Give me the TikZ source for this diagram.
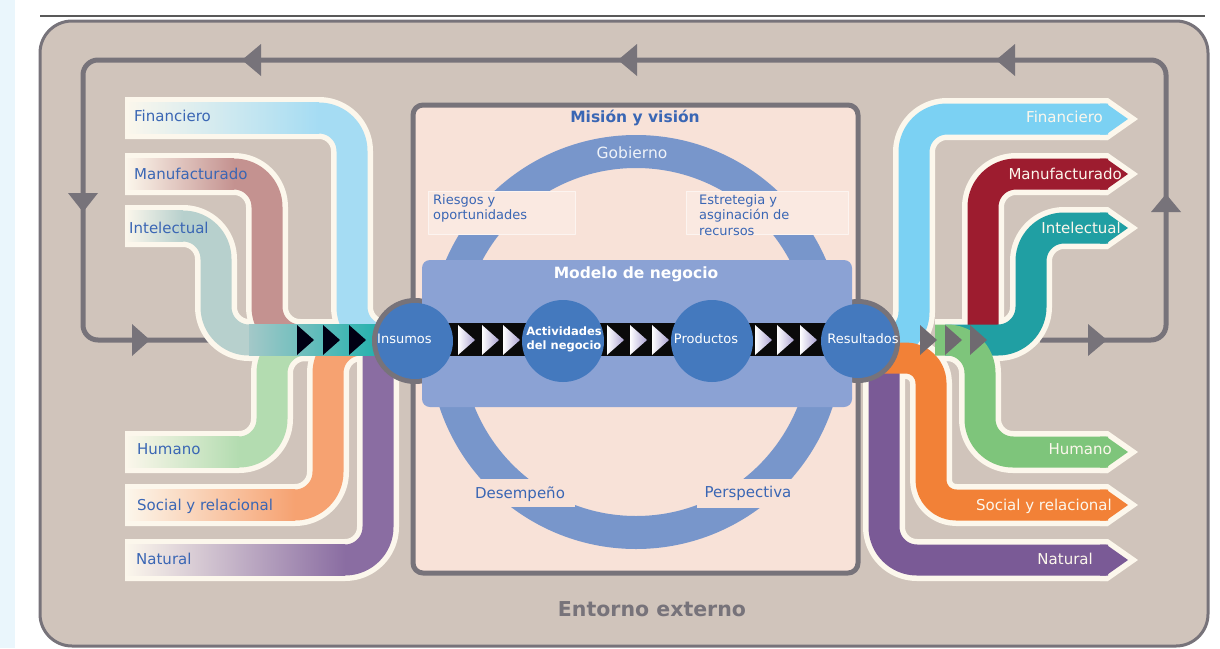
\documentclass[tikz,border=0pt]{standalone}
\usepackage{fontspec}
\setmainfont{DejaVu Sans}
\definecolor{strip}{HTML}{EAF6FC}
\definecolor{taupe}{HTML}{D0C4BB}
\definecolor{frame}{HTML}{77737A}
\definecolor{peach}{HTML}{F8E2D8}
\definecolor{peachbox}{HTML}{FAE9E1}
\definecolor{cream}{HTML}{FCF7EC}
\definecolor{ringc}{HTML}{7896CB}
\definecolor{modelc}{HTML}{8BA2D4}
\definecolor{circc}{HTML}{4479BE}
\definecolor{txtblue}{HTML}{3A66B4}
\definecolor{lav}{HTML}{ABA3D2}
\definecolor{LFin}{HTML}{A5DCF3}
\definecolor{LMan}{HTML}{C49290}
\definecolor{LInt}{HTML}{B7D0CD}
\definecolor{LHum}{HTML}{B3DCB0}
\definecolor{LSoc}{HTML}{F6A271}
\definecolor{LNat}{HTML}{8A6DA2}
\definecolor{BandA}{HTML}{A3C8C8}
\definecolor{BandB}{HTML}{13AEAA}
\definecolor{RFin}{HTML}{7BD1F3}
\definecolor{RMan}{HTML}{9D1C2F}
\definecolor{RInt}{HTML}{209FA3}
\definecolor{RHum}{HTML}{7EC57B}
\definecolor{RSoc}{HTML}{F28137}
\definecolor{RNat}{HTML}{7A5A96}
\definecolor{chevg}{HTML}{6F6A70}
\begin{document}
\begin{tikzpicture}[x=1pt,y=-1pt,line join=round,
  crm/.style={draw=cream,line width=42pt,rounded corners=33pt},
  rib/.style={draw=#1,line width=31pt,rounded corners=33pt},
  lbl/.style={font=\fontsize{15}{18}\selectfont,text=txtblue,inner sep=0pt,anchor=west},
  rlbl/.style={font=\fontsize{15}{18}\selectfont,text=cream,inner sep=0pt,anchor=east},
  small/.style={font=\fontsize{13}{15.5}\selectfont,text=txtblue,inner sep=0pt,align=left,anchor=north west},
  ringlbl/.style={font=\fontsize{15}{18}\selectfont,text=txtblue,inner sep=0pt},
  circtxt/.style={font=\fontsize{13}{15}\selectfont,text=white,inner sep=0pt},
  blob/.style={fill=circc},
  chevw/.style={left color=white,right color=lav},
]
\useasboundingbox (0,0) rectangle (1220,648);
\fill[white] (0,0) rectangle (1220,648);
\fill[strip] (0,0) rectangle (15,648);
\draw[line width=2pt,draw=black!65] (40,16) -- (1205,16);
% outer box
\draw[draw=frame,line width=3pt,fill=taupe,rounded corners=32pt] (40,21) rectangle (1208,646);
% feedback loop
\draw[frame,line width=5pt,rounded corners=15pt] (210,340) -- (83,340) -- (83,60) -- (1166,60) -- (1166,340) -- (1040,340);
\fill[frame] (242,60) -- (261,44) -- (261,76) -- cycle;
\fill[frame] (618,60) -- (637,44) -- (637,76) -- cycle;
\fill[frame] (996,60) -- (1015,44) -- (1015,76) -- cycle;
\fill[frame] (68,193) -- (98,193) -- (83,212) -- cycle;
\fill[frame] (132,324) -- (150,340) -- (132,356) -- cycle;
\fill[frame] (1151,212) -- (1181,212) -- (1166,194) -- cycle;
\fill[frame] (1088,324) -- (1107,340) -- (1088,356) -- cycle;
% ---------- left ribbons: cream ----------
\draw[crm] (125,118) -- (352,118) -- (352,340) -- (400,340);
\draw[crm] (125,174) -- (267,174) -- (267,340) -- (400,340);
\draw[crm] (125,226) -- (216,226) -- (216,340) -- (400,340);
\draw[crm] (125,452) -- (272,452) -- (272,340) -- (400,340);
\draw[crm] (125,505) -- (328,505) -- (328,340) -- (400,340);
\draw[crm] (125,560) -- (378,560) -- (378,335);
% ---------- left ribbons: colour ----------
\draw[rib=LFin] (125,118) -- (352,118) -- (352,340) -- (400,340);
\draw[rib=LMan] (125,174) -- (267,174) -- (267,340) -- (400,340);
\draw[rib=LInt] (125,226) -- (216,226) -- (216,340) -- (400,340);
\draw[rib=LHum] (125,452) -- (272,452) -- (272,340) -- (400,340);
\draw[rib=LSoc] (125,505) -- (328,505) -- (328,340) -- (400,340);
\draw[rib=LNat] (125,560) -- (378,560) -- (378,335);
\shade[left color=cream,right color=LFin] (125,102.5) rectangle (319,133.5);
\shade[left color=cream,right color=LMan] (125,158.5) rectangle (234,189.5);
\shade[left color=cream,right color=LInt] (125,210.5) rectangle (183,241.5);
\shade[left color=cream,right color=LHum] (125,436.5) rectangle (239,467.5);
\shade[left color=cream,right color=LSoc] (125,489.5) rectangle (295,520.5);
\shade[left color=cream,right color=LNat] (125,544.5) rectangle (345,575.5);
\shade[left color=BandA,right color=BandB] (249,324.5) rectangle (395,355.5);
% left labels
\node[lbl] (lfin) at (134,116) {Financiero};
\node[lbl] (lman) at (134,174) {Manufacturado};
\node[lbl] (lint) at (129,228) {Intelectual};
\node[lbl] (lhum) at (137,449) {Humano};
\node[lbl] (lsoc) at (137,506) {Social y relacional};
\node[lbl] (lnat) at (136,559) {Natural};
% ---------- right ribbons: cream ----------
\draw[crm] (884,350) -- (884,560) -- (1108,560);
\draw[crm] (870,345) -- (914,345) -- (914,119) -- (1108,119);
\draw[crm,rounded corners=25pt] (875,358) -- (931,358) -- (931,505) -- (1108,505);
\draw[crm] (983,335) -- (983,174) -- (1108,174);
\draw[crm] (945,340) -- (1031,340) -- (1031,228) -- (1108,228);
\draw[crm] (935,340) -- (980,340) -- (980,452) -- (1108,452);
\foreach \yy in {119,174,228,452,505,560}{
  \fill[cream] (1100,\yy-21) -- (1108,\yy-21) -- (1138,\yy) -- (1108,\yy+21) -- (1100,\yy+21) -- cycle;
}
% ---------- right ribbons: colour ----------
\draw[rib=RNat] (884,350) -- (884,560) -- (1108,560);
\draw[rib=RFin] (870,345) -- (914,345) -- (914,119) -- (1108,119);
\draw[rib=RSoc,rounded corners=25pt] (875,358) -- (931,358) -- (931,505) -- (1108,505);
\draw[rib=RMan] (983,335) -- (983,174) -- (1108,174);
\draw[rib=RInt] (945,340) -- (1031,340) -- (1031,228) -- (1108,228);
\draw[rib=RHum] (935,340) -- (980,340) -- (980,452) -- (1108,452);
\foreach \yy/\cc in {119/RFin,174/RMan,228/RInt,452/RHum,505/RSoc,560/RNat}{
  \fill[\cc] (1100,\yy-15.5) -- (1106,\yy-15.5) -- (1128,\yy) -- (1106,\yy+15.5) -- (1100,\yy+15.5) -- cycle;
}
\node[rlbl] (rfin) at (1103,117) {Financiero};
\node[rlbl] (rman) at (1122,174) {Manufacturado};
\node[rlbl] (rint) at (1121,228) {Intelectual};
\node[rlbl] (rhum) at (1112,449) {Humano};
\node[rlbl] (rsoc) at (1112,506) {Social y relacional};
\node[rlbl] (rnat) at (1093,559) {Natural};
% ---------- centre box ----------
\draw[draw=frame,line width=5pt,fill=peach,rounded corners=10pt] (413,105) rectangle (858,573);
\fill[frame] (415,341) circle[radius=43pt];
\fill[frame] (858,341) circle[radius=42pt];
\node[font=\bfseries\fontsize{15.5}{18}\selectfont,text=txtblue,inner sep=0pt] (mision) at (635,118) {Misión y visión};
% ring
\draw[ringc,line width=33pt] (636,342) circle[radius=190.5pt];
\draw[fill=peachbox,draw=white!50!peachbox,line width=0.6pt] (428,191) rectangle (575,234);
\draw[fill=peachbox,draw=white!50!peachbox,line width=0.6pt] (686,191) rectangle (848,234);
\fill[peach] (470,479) rectangle (575,507);
\fill[peach] (697,479) rectangle (800,508);
\node[small] (riesgos) at (433,194) {Riesgos y\\oportunidades};
\node[small] (estrat) at (699,194) {Estretegia y\\asginación de\\recursos};
\node[ringlbl] (desemp) at (520,494) {Desempeño};
\node[ringlbl] (persp) at (748,493) {Perspectiva};
\node[font=\fontsize{15.5}{18}\selectfont,text=white!88!ringc,inner sep=0pt] (gob) at (632,153) {Gobierno};
% model box
\fill[modelc,rounded corners=8pt] (422,260) rectangle (852,407);
\node[font=\bfseries\fontsize{15.5}{18}\selectfont,text=white,inner sep=0pt] (modelo) at (636,274) {Modelo de negocio};
\fill[black!96] (415,323) rectangle (858,356);
% chevrons
\foreach \xx in {458,482,503,607,630,652,755,777,800}{
  \shade[chevw] (\xx,325) -- (\xx+17,340) -- (\xx,355) -- cycle;
}
\foreach \xx in {297,323,349}{
  \fill[black!92!blue] (\xx,325) -- (\xx+17,340) -- (\xx,355) -- cycle;
}
\foreach \xx in {920,945,970}{
  \fill[chevg] (\xx,325) -- (\xx+17,340) -- (\xx,355) -- cycle;
}
% circles
\fill[blob] (415,341) circle[radius=38pt];
\fill[blob] (563,341) circle[radius=41pt];
\fill[blob] (712,341) circle[radius=41pt];
\fill[blob] (858,341) circle[radius=37pt];
\node[circtxt,anchor=west] (insumos) at (377,339) {Insumos};
\node[font=\bfseries\fontsize{11.5}{14}\selectfont,text=white,inner sep=0pt,align=center] (activ) at (564,339) {Actividades\\del negocio};
\node[circtxt] (productos) at (706,339) {Productos};
\node[circtxt] (resultados) at (863,339) {Resultados};
% bottom title
\node[font=\bfseries\fontsize{20.5}{24}\selectfont,text=frame,inner sep=0pt] (entorno) at (652,609) {Entorno externo};
\end{tikzpicture}
\end{document}
